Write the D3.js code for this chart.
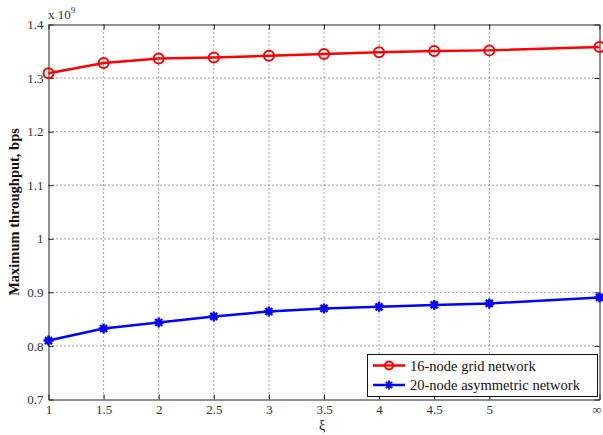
<!DOCTYPE html>
<html>
<head>
<meta charset="utf-8">
<script src="https://cdn.jsdelivr.net/npm/d3@7/dist/d3.min.js"></script>
<style>
  html, body { margin: 0; padding: 0; background: #fff; }
  svg { display: block; }
  text { font-family: "Liberation Serif", "Times New Roman", serif; }
</style>
</head>
<body>
<svg id="chart" width="603" height="435"></svg>
<script>
// ξ values; the last point (ξ = ∞) sits one unit to the right of 5
const xiValues = [1, 1.5, 2, 2.5, 3, 3.5, 4, 4.5, 5, Infinity];
const xiTickLabels = ["1", "1.5", "2", "2.5", "3", "3.5", "4", "4.5", "5", "\u221e"];
const gridNetwork = [1.309, 1.328, 1.3365, 1.3385, 1.3417, 1.345, 1.348, 1.3505, 1.3517, 1.358];   // ×10^9 bps
const asymNetwork = [0.810, 0.8325, 0.8437, 0.855, 0.8643, 0.870, 0.873, 0.8766, 0.8793, 0.8905]; // ×10^9 bps
const yTickValues = [0.7, 0.8, 0.9, 1.0, 1.1, 1.2, 1.3, 1.4];
const yTickLabels = ["0.7", "0.8", "0.9", "1", "1.1", "1.2", "1.3", "1.4"];

const svg = d3.select("#chart");
const L = 48.5, R = 599.5, T = 24.5, B = 399.5;

const xPos = v => (v === Infinity ? 6 : v);
const x = d3.scaleLinear().domain([1, 6]).range([L, R]);
const y = d3.scaleLinear().domain([0.7, 1.4]).range([B, T]);

// dotted grid
const grid = svg.append("g");
xiValues.slice(1, -1).forEach(v => {
  grid.append("line").attr("x1", x(xPos(v))).attr("x2", x(xPos(v)))
    .attr("y1", T).attr("y2", B)
    .attr("stroke", "#444").attr("stroke-width", 1).attr("stroke-dasharray", "1,3");
});
yTickValues.slice(1, -1).forEach(v => {
  grid.append("line").attr("x1", L).attr("x2", R)
    .attr("y1", y(v)).attr("y2", y(v))
    .attr("stroke", "#444").attr("stroke-width", 1).attr("stroke-dasharray", "1,3");
});

// axes with inward ticks on all four sides
const tickPos = xiValues.map(xPos);
const xAxisB = d3.axisBottom(x).tickValues(tickPos).tickSizeInner(-5).tickSizeOuter(0)
  .tickPadding(5).tickFormat((d, i) => xiTickLabels[i]);
const xAxisT = d3.axisTop(x).tickValues(tickPos).tickSizeInner(-5).tickSizeOuter(0).tickFormat("");
const yAxisL = d3.axisLeft(y).tickValues(yTickValues).tickSizeInner(-5).tickSizeOuter(0)
  .tickPadding(5).tickFormat((d, i) => yTickLabels[i]);
const yAxisR = d3.axisRight(y).tickValues(yTickValues).tickSizeInner(-5).tickSizeOuter(0).tickFormat("");

function styleAxis(g) {
  g.select(".domain").attr("stroke", "#222");
  g.selectAll(".tick line").attr("stroke", "#222");
  g.selectAll(".tick text").attr("fill", "#333")
    .style("font-family", "'Liberation Serif', serif").style("font-size", "13px");
}
const gxB = svg.append("g").attr("transform", `translate(0,${B})`).call(xAxisB).call(styleAxis);
// the ∞ label sits on the right edge; nudge it inward so it stays on the canvas
gxB.selectAll(".tick text").filter((d, i) => i === xiTickLabels.length - 1).attr("dx", -3);
svg.append("g").attr("transform", `translate(0,${T})`).call(xAxisT).call(styleAxis);
svg.append("g").attr("transform", `translate(${L},0)`).call(yAxisL).call(styleAxis);
svg.append("g").attr("transform", `translate(${R},0)`).call(yAxisR).call(styleAxis);

// exponent label
const expo = svg.append("text").attr("x", 48).attr("y", 19)
  .attr("fill", "#333").style("font-size", "13px");
expo.append("tspan").text("x 10");
expo.append("tspan").attr("dy", -6).style("font-size", "9px").text("9");

// axis titles
svg.append("text").attr("x", 322).attr("y", 430).attr("text-anchor", "middle")
  .style("font-size", "14px").attr("fill", "#111").text("\u03be");
svg.append("text")
  .attr("transform", `translate(19,${(T + B) / 2}) rotate(-90)`)
  .attr("text-anchor", "middle").style("font-size", "14.5px").style("font-weight", "bold")
  .attr("fill", "#111").text("Maximum throughput, bps");

// series
const line = d3.line().x((d, i) => x(xPos(xiValues[i]))).y(d => y(d));
const asterisk = s => `M${-s},0H${s}M0,${-s}V${s}M${-s * 0.7},${-s * 0.7}L${s * 0.7},${s * 0.7}M${-s * 0.7},${s * 0.7}L${s * 0.7},${-s * 0.7}`;

const plot = svg.append("g");
plot.append("path").datum(gridNetwork).attr("d", line)
  .attr("fill", "none").attr("stroke", "#ff0000").attr("stroke-width", 2.5);
plot.selectAll("circle.red").data(gridNetwork).enter().append("circle")
  .attr("cx", (d, i) => x(xPos(xiValues[i]))).attr("cy", d => y(d)).attr("r", 5)
  .attr("fill", "none").attr("stroke", "#ff0000").attr("stroke-width", 2);

plot.append("path").datum(asymNetwork).attr("d", line)
  .attr("fill", "none").attr("stroke", "#0000ff").attr("stroke-width", 2.5);
plot.selectAll("path.star").data(asymNetwork).enter().append("path")
  .attr("transform", (d, i) => `translate(${x(xPos(xiValues[i]))},${y(d)})`)
  .attr("d", asterisk(5)).attr("fill", "none").attr("stroke", "#0000ff").attr("stroke-width", 2.4);

// legend
const lg = svg.append("g");
lg.append("rect").attr("x", 367.5).attr("y", 354.5).attr("width", 230).attr("height", 42)
  .attr("fill", "#fff").attr("stroke", "#111").attr("stroke-width", 1);
const entries = [
  { label: "16-node grid network", color: "#ff0000", mark: "circle" },
  { label: "20-node asymmetric network", color: "#0000ff", mark: "star" }
];
entries.forEach((e, i) => {
  const cy = 365.5 + i * 19.5;
  lg.append("line").attr("x1", 373).attr("x2", 405).attr("y1", cy).attr("y2", cy)
    .attr("stroke", e.color).attr("stroke-width", 2.5);
  if (e.mark === "circle") {
    lg.append("circle").attr("cx", 389).attr("cy", cy).attr("r", 4)
      .attr("fill", "none").attr("stroke", e.color).attr("stroke-width", 2);
  } else {
    lg.append("path").attr("transform", `translate(389,${cy})`).attr("d", asterisk(4.5))
      .attr("fill", "none").attr("stroke", e.color).attr("stroke-width", 2);
  }
  lg.append("text").attr("x", 410).attr("y", cy + 5).style("font-size", "14.5px")
    .attr("fill", "#111").text(e.label);
});
</script>
</body>
</html>
